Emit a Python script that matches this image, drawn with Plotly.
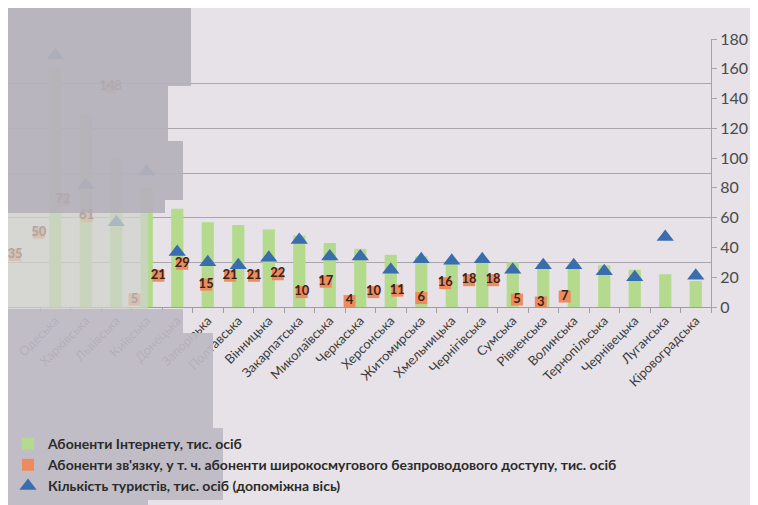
import plotly.graph_objects as go

# ---------------- data ----------------
categories = [
    "Одеська", "Харківська", "Львівська", "Київська",
    "Донецька", "Запорізька", "Полтавська", "Вінницька", "Закарпатська",
    "Миколаївська", "Черкаська", "Херсонська", "Житомирська", "Хмельницька",
    "Чернігівська", "Сумська", "Рівненська", "Волинська", "Тернопільська",
    "Чернівецька", "Луганська", "Кіровоградська",
]
bar_values = [160, 130, 100, 80, 66, 57, 55, 52, 48,
              43, 39, 35, 34, 31, 30, 30, 29, 28.5, 28,
              25, 22, 17.5]
triangle_values = [169, 82, 57, 91, 37, 30, 28, 33, 45,
                   34, 34, 25, 32, 31, 32, 25, 28, 28, 24,
                   20, 47, 21]
orange_values = [35, 50, 72, 61, 148, 5, 21, 29, 15, 21, 21, 22,
                 10, 17, 4, 10, 11, 6, 16, 18, 18, 5, 3, 7]

name_bars = "Абоненти Інтернету, тис. осіб"
name_orange = "Абоненти зв'язку, у т. ч. абоненти широкосмугового безпроводового доступу, тис. осіб"
name_tri = "Кількість туристів, тис. осіб (допоміжна вісь)"

# ---------------- styling ----------------
W, H = 758, 505
ML, MR, MT, MB = 0, 55, 31, 206
PW, PH = W - ML - MR, H - MT - MB
PAGE = "#e6e2e7"
FONT = "Lato"


def px_x(x):
    return (x - ML) / PW


def px_y(y):
    return (H - MB - y) / PH


fig = go.Figure()
fig.add_trace(go.Bar(
    x=categories, y=bar_values, name=name_bars,
    marker=dict(color="#b4da8d", line=dict(width=0)), width=0.4,
    xaxis="x", yaxis="y",
))
fig.add_trace(go.Scatter(
    x=list(range(len(orange_values))), y=orange_values, name=name_orange,
    mode="markers+text", text=[str(v) for v in orange_values],
    textposition="middle center",
    textfont=dict(family=FONT, size=13, color="#3a2418", weight="bold"),
    marker=dict(symbol="square", size=12, color="#ee8b5e"),
    xaxis="x2", yaxis="y2",
))
fig.add_trace(go.Scatter(
    x=categories, y=triangle_values, name=name_tri, mode="markers",
    marker=dict(symbol="triangle-up", size=15, color="#3a6dad"),
    xaxis="x", yaxis="y2",
))

# greyed-out (blurred) areas of the photographed page
grey_block = "rgba(182,177,187,0.94)"
fog = "rgba(208,209,204,0.75)"
low_block = "rgba(190,186,195,0.92)"
blocks = [
    (0, 183, 0, 78, grey_block),
    (0, 160, 78, 133, grey_block),
    (0, 175, 133, 192, grey_block),
    (0, 157, 192, 205, grey_block),
    (0, 140, 205, 301, fog),
    (0, 175, 301, 325, low_block),
    (0, 205, 325, 420, low_block),
    (0, 215, 420, 492, low_block),
    (0, 140, 492, 505, low_block),
]
shapes = [
    dict(type="rect", xref="paper", yref="paper", layer="above",
         x0=px_x(a), x1=px_x(b), y0=px_y(d), y1=px_y(c),
         fillcolor=col, line=dict(width=0))
    for a, b, c, d, col in blocks
]

fig.update_layout(
    width=W, height=H, autosize=False,
    margin=dict(l=ML, r=MR, t=MT, b=MB, autoexpand=False),
    paper_bgcolor=PAGE, plot_bgcolor="rgba(0,0,0,0)",
    font=dict(family=FONT, color="#3c3c3c"),
    showlegend=True,
    legend=dict(orientation="v", x=0.0, xanchor="left",
                y=px_y(420), yanchor="top", bgcolor="rgba(0,0,0,0)",
                font=dict(size=14, color="#2b2b2b", weight="bold"),
                traceorder="normal", itemwidth=30),
    xaxis=dict(type="category", range=[-1.55, len(categories) - 0.5],
               tickangle=-45, tickfont=dict(size=13, color="#3c3c3c"),
               showline=True, linecolor="#a09ca3", ticks="outside",
               tickson="boundaries", ticklen=5, tickcolor="#a09ca3",
               showgrid=False, automargin=False),
    xaxis2=dict(overlaying="x", range=[-0.29, 29.12], visible=False),
    yaxis=dict(range=[0, 180], dtick=30, showgrid=True, gridcolor="#aaa6ad",
               gridwidth=1, showticklabels=False, zeroline=False,
               automargin=False),
    yaxis2=dict(overlaying="y", side="right", range=[0, 180], dtick=20,
                showgrid=False, showline=True, linecolor="#a6a2a8",
                ticks="outside", ticklen=5, tickcolor="#a6a2a8",
                tickfont=dict(size=16, color="#4a4a4a"), zeroline=False,
                automargin=False),
    shapes=shapes,
    bargap=0.6,
)

fig.write_html("out.html")
